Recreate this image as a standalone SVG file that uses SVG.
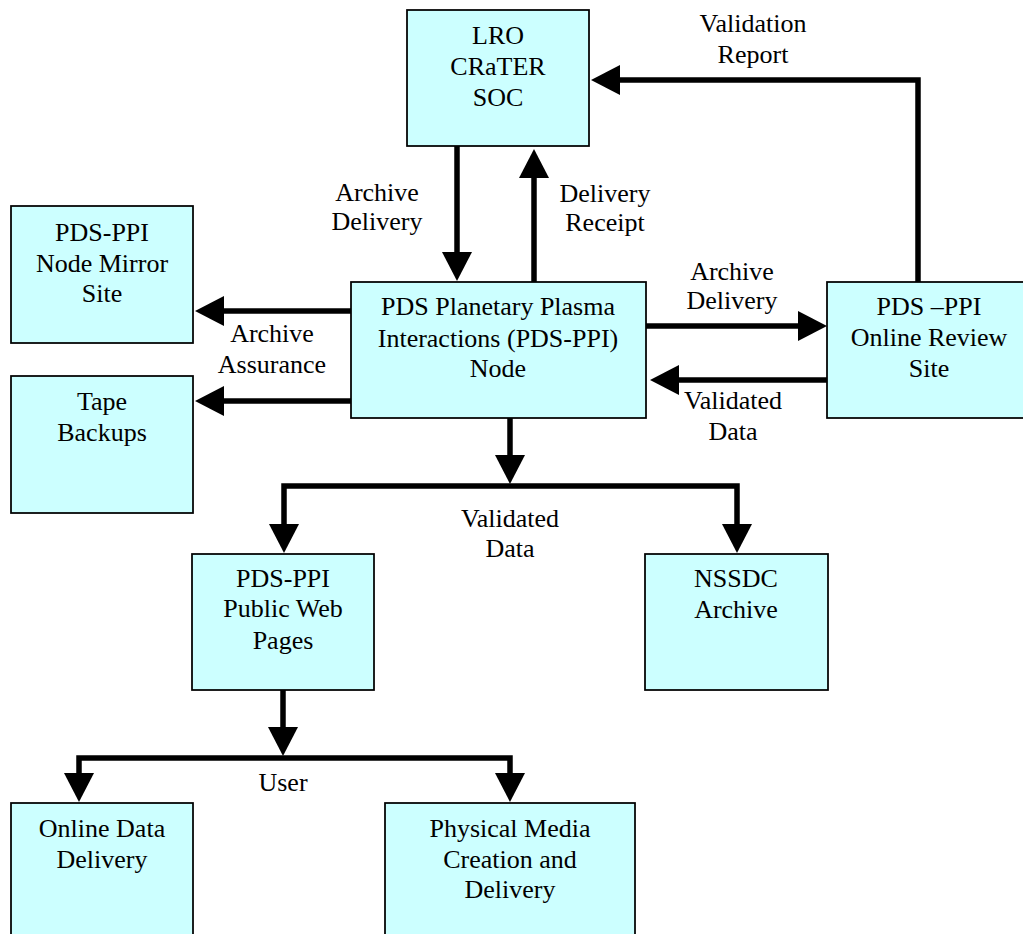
<svg xmlns="http://www.w3.org/2000/svg" width="1023" height="934" viewBox="0 0 1023 934">
<style>
.box{fill:#CCFFFF;stroke:#000;stroke-width:1.75}
.t{font-family:"Liberation Serif","Times New Roman",serif;font-size:26px;fill:#000;text-anchor:middle}
.c{fill:none;stroke:#000;stroke-width:5.5;stroke-linejoin:miter}
</style>
<defs>
<marker id="ah" viewBox="0 -15 30 30" refX="1" refY="0" markerWidth="30" markerHeight="30" markerUnits="userSpaceOnUse" orient="auto">
<path d="M0,-15 L29,0 L0,15 z" fill="#000"/>
</marker>
</defs>
<rect width="1023" height="934" fill="#fff"/>
<g id="connectors">
<path class="c" d="M457,146 V253" marker-end="url(#ah)"/>
<path class="c" d="M534,282 V177" marker-end="url(#ah)"/>
<path class="c" d="M918,282 V80 H619" marker-end="url(#ah)"/>
<path class="c" d="M646,326 H799" marker-end="url(#ah)"/>
<path class="c" d="M827,380 H678" marker-end="url(#ah)"/>
<path class="c" d="M351,311 H223" marker-end="url(#ah)"/>
<path class="c" d="M351,401 H223" marker-end="url(#ah)"/>
<path class="c" d="M510,418 V456" marker-end="url(#ah)"/>
<path class="c" d="M510,486 H284 V525" marker-end="url(#ah)"/>
<path class="c" d="M510,486 H737 V525" marker-end="url(#ah)"/>
<path class="c" d="M283,690 V728" marker-end="url(#ah)"/>
<path class="c" d="M283,758 H79 V774" marker-end="url(#ah)"/>
<path class="c" d="M283,758 H510 V774" marker-end="url(#ah)"/>
<text class="t" x="377" y="201">Archive</text>
<text class="t" x="377" y="230">Delivery</text>
<text class="t" x="605" y="202">Delivery</text>
<text class="t" x="605" y="231">Receipt</text>
<text class="t" x="753" y="32">Validation</text>
<text class="t" x="753" y="63">Report</text>
<text class="t" x="732" y="280">Archive</text>
<text class="t" x="732" y="309">Delivery</text>
<text class="t" x="733" y="409">Validated</text>
<text class="t" x="733" y="440">Data</text>
<text class="t" x="272" y="342">Archive</text>
<text class="t" x="272" y="373">Assurance</text>
<text class="t" x="510" y="527">Validated</text>
<text class="t" x="510" y="557">Data</text>
<text class="t" x="283" y="791">User</text>
</g>
<g id="lro">
<rect class="box" x="407" y="10" width="182" height="136"/>
<text class="t" x="498" y="44">LRO</text>
<text class="t" x="498" y="75">CRaTER</text>
<text class="t" x="498" y="106">SOC</text>
</g>
<g id="ppi-node">
<rect class="box" x="351" y="282" width="295" height="136"/>
<text class="t" x="498" y="315">PDS Planetary Plasma</text>
<text class="t" x="498" y="347">Interactions (PDS-PPI)</text>
<text class="t" x="498" y="377">Node</text>
</g>
<g id="review">
<rect class="box" x="827" y="282" width="204" height="136"/>
<text class="t" x="929" y="315">PDS –PPI</text>
<text class="t" x="929" y="346">Online Review</text>
<text class="t" x="929" y="377">Site</text>
</g>
<g id="mirror">
<rect class="box" x="11" y="206" width="182" height="137"/>
<text class="t" x="102" y="241">PDS-PPI</text>
<text class="t" x="102" y="272">Node Mirror</text>
<text class="t" x="102" y="302">Site</text>
</g>
<g id="tape">
<rect class="box" x="11" y="376" width="182" height="137"/>
<text class="t" x="102" y="410">Tape</text>
<text class="t" x="102" y="441">Backups</text>
</g>
<g id="web">
<rect class="box" x="192" y="554" width="182" height="136"/>
<text class="t" x="283" y="587">PDS-PPI</text>
<text class="t" x="283" y="617">Public Web</text>
<text class="t" x="283" y="649">Pages</text>
</g>
<g id="nssdc">
<rect class="box" x="645" y="554" width="183" height="136"/>
<text class="t" x="736" y="587">NSSDC</text>
<text class="t" x="736" y="618">Archive</text>
</g>
<g id="online">
<rect class="box" x="11" y="803" width="182" height="140"/>
<text class="t" x="102" y="837">Online Data</text>
<text class="t" x="102" y="868">Delivery</text>
</g>
<g id="physical">
<rect class="box" x="385" y="803" width="250" height="140"/>
<text class="t" x="510" y="837">Physical Media</text>
<text class="t" x="510" y="868">Creation and</text>
<text class="t" x="510" y="898">Delivery</text>
</g>
</svg>
